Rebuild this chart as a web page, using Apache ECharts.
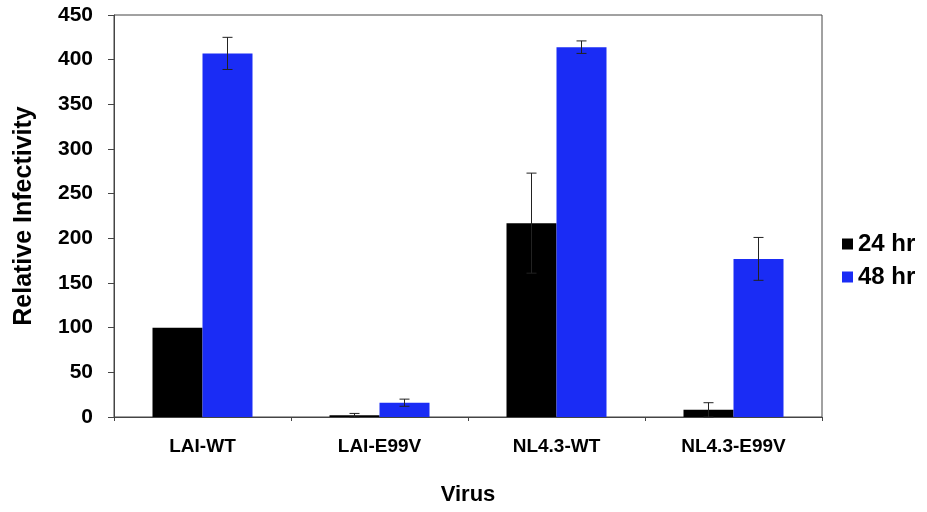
<!DOCTYPE html>
<html><head><meta charset="utf-8">
<script src="https://cdn.jsdelivr.net/npm/echarts@6/dist/echarts.min.js"></script>
<style>html,body{margin:0;padding:0;background:#fff}#c{width:927px;height:512px}</style>
</head><body><div id="c"></div>
<script>
var categories = ['LAI-WT', 'LAI-E99V', 'NL4.3-WT', 'NL4.3-E99V'];
var seriesNames = ['24 hr', '48 hr'];
var values24 = [100, 2, 217, 8];
var errors24 = [0, 2, 56, 8];
var values48 = [407, 16, 414, 177];
var errors48 = [18, 4, 7, 24];
var yTicks = [0, 50, 100, 150, 200, 250, 300, 350, 400, 450];

var BAR_W = 50;
var font = 'Liberation Sans, Arial, sans-serif';

function errData(vals, errs) {
  return vals.map(function (v, i) { return [i, v, errs[i]]; });
}
function errRender(offset) {
  return function (params, api) {
    var i = api.value(0), v = api.value(1), e = api.value(2);
    if (!e) return null;
    var top = api.coord([i, v + e]);
    var bot = api.coord([i, v - e]);
    var x = top[0] + offset;
    var cap = 5;
    var st = { stroke: '#222', lineWidth: 1 };
    return { type: 'group', children: [
      { type: 'line', shape: { x1: x, y1: top[1], x2: x, y2: bot[1] }, style: st },
      { type: 'line', shape: { x1: x - cap, y1: top[1], x2: x + cap, y2: top[1] }, style: st },
      { type: 'line', shape: { x1: x - cap, y1: bot[1], x2: x + cap, y2: bot[1] }, style: st }
    ]};
  };
}

var chart = echarts.init(document.getElementById('c'));
chart.setOption({
  backgroundColor: '#fff',
  animation: false,
  grid: { left: 114, right: 105, top: 15, bottom: 95, show: true, borderColor: '#444', borderWidth: 1 },
  legend: {
    orient: 'vertical', left: 837, top: 227, itemWidth: 11, itemHeight: 11, itemGap: 9,
    icon: 'rect',
    data: seriesNames,
    textStyle: { fontFamily: font, fontWeight: 'bold', fontSize: 24, color: '#000' }
  },
  xAxis: {
    type: 'category', data: categories,
    name: 'Virus', nameLocation: 'middle', nameGap: 67,
    nameTextStyle: { fontFamily: font, fontWeight: 'bold', fontSize: 22, color: '#000' },
    axisLine: { lineStyle: { color: '#444' } },
    axisTick: { show: true, length: 4, lineStyle: { color: '#444' } },
    axisLabel: { fontFamily: font, fontWeight: 'bold', fontSize: 19, color: '#000', margin: 20 }
  },
  yAxis: {
    type: 'value', min: yTicks[0], max: yTicks[yTicks.length - 1], interval: 50,
    name: 'Relative Infectivity', nameLocation: 'middle', nameGap: 77,
    nameTextStyle: { fontFamily: font, fontWeight: 'bold', fontSize: 25, color: '#000' },
    axisLine: { show: true, lineStyle: { color: '#444' } },
    axisTick: { show: true, length: 6, lineStyle: { color: '#444' } },
    splitLine: { show: false },
    axisLabel: { fontFamily: font, fontWeight: 'bold', fontSize: 21, color: '#000', margin: 21 }
  },
  series: [
    { name: seriesNames[0], type: 'bar', data: values24, barWidth: BAR_W, barGap: '0%', itemStyle: { color: '#000' } },
    { name: seriesNames[1], type: 'bar', data: values48, barWidth: BAR_W, barGap: '0%', itemStyle: { color: '#1a2cf5' } },
    { type: 'custom', data: errData(values24, errors24), renderItem: errRender(-BAR_W / 2), z: 10, silent: true },
    { type: 'custom', data: errData(values48, errors48), renderItem: errRender(BAR_W / 2), z: 10, silent: true }
  ]
});
</script></body></html>
